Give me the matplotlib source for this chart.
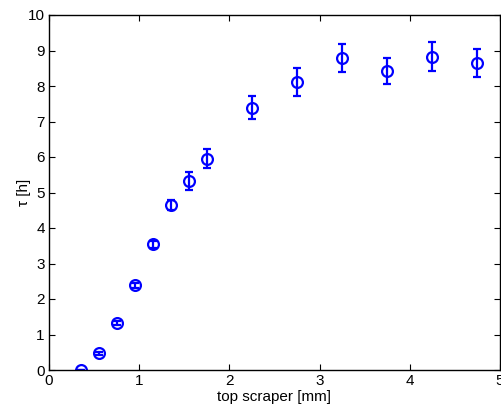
import numpy as np
import matplotlib.pyplot as plt

plt.rcParams['font.family'] = ['Liberation Sans', 'DejaVu Sans']

scraper = [0.35, 0.55, 0.75, 0.95, 1.15, 1.35, 1.55, 1.75, 2.25, 2.75, 3.25, 3.75, 4.25, 4.75]
tau = [0.0, 0.47, 1.33, 2.39, 3.54, 4.65, 5.32, 5.95, 7.39, 8.11, 8.79, 8.43, 8.83, 8.65]
tau_err = [0.0, 0.04, 0.06, 0.07, 0.1, 0.15, 0.26, 0.27, 0.33, 0.4, 0.4, 0.37, 0.41, 0.39]

fig = plt.figure(figsize=(5.02, 4.09), dpi=100)
ax = fig.add_axes([49 / 502, 1 - 370 / 409, 451 / 502, 355 / 409])

ax.errorbar(scraper, tau, yerr=tau_err, fmt='o', color='blue', mfc='none',
            ms=7.8, mew=1.6, elinewidth=1.6, capsize=3.0, capthick=1.6)

ax.set_xlim(0, 5)
ax.set_ylim(0, 10)
ax.set_xticks(range(0, 6))
ax.set_yticks(range(0, 11))
ax.tick_params(direction='in', top=True, right=True, labelsize=11, length=4, width=0.8, pad=3)
for s in ax.spines.values():
    s.set_linewidth(1.0)

ax.set_xlabel('top scraper [mm]', fontsize=11, labelpad=1)
ax.set_ylabel('τ [h]', fontsize=11, labelpad=-2)

fig.savefig('out.png', dpi=100)
